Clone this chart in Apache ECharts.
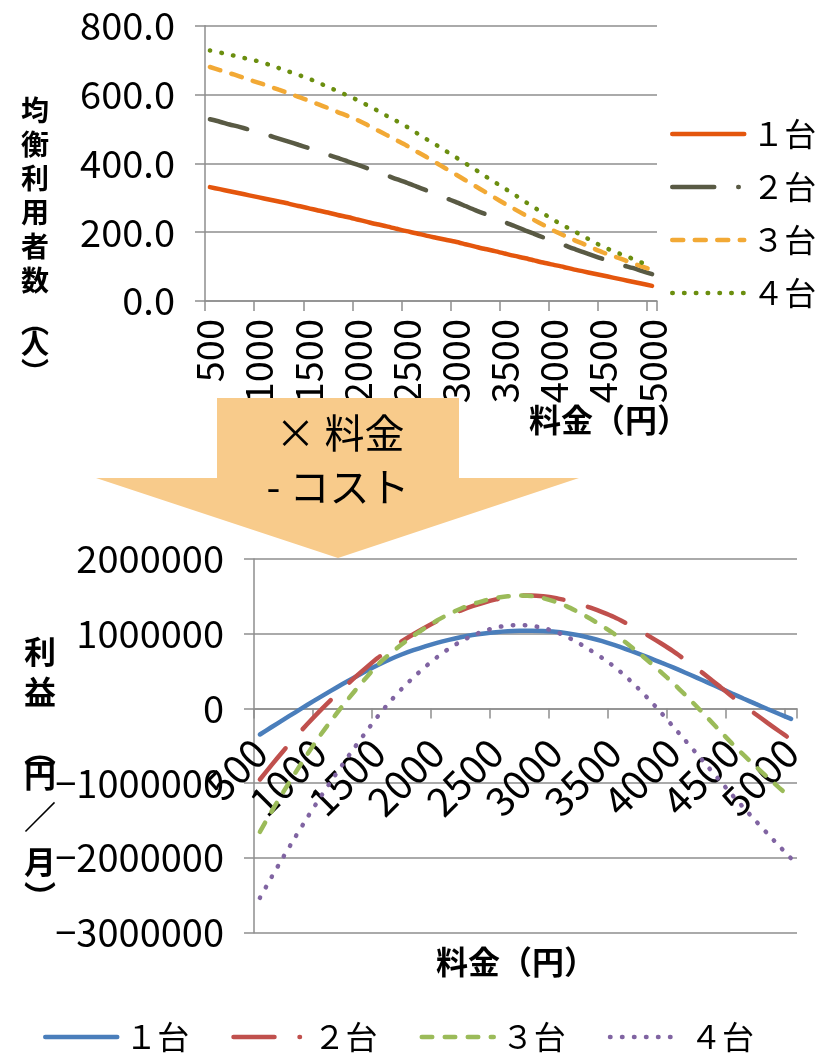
<!DOCTYPE html>
<html>
<head>
<meta charset="utf-8">
<script src="https://cdn.jsdelivr.net/npm/echarts@6/dist/echarts.min.js"></script>
<style>
  html, body { margin: 0; padding: 0; background: #fff; }
  #wrap { position: relative; width: 834px; height: 1053px; overflow: hidden; }
  #top { position: absolute; left: 0; top: 0; width: 834px; height: 450px; }
  #bottom { position: absolute; left: 0; top: 385px; width: 834px; height: 668px; }
</style>
</head>
<body>
<div id="wrap"><div id="top"></div><div id="bottom"></div></div>
<script>
// Price (yen), one category per 100 yen
const prices = [500,600,700,800,900,1000,1100,1200,1300,1400,1500,1600,1700,1800,1900,2000,2100,2200,2300,2400,2500,2600,2700,2800,2900,3000,3100,3200,3300,3400,3500,3600,3700,3800,3900,4000,4100,4200,4300,4400,4500,4600,4700,4800,4900,5000];

const seriesNames = ['１台', '２台', '３台', '４台'];

// Equilibrium number of users
const users1 = [331,325,319,313,307,301,295,289,283,276,270,263,257,250,244,237,230,223,217,210,203,197,190,184,178,172,165,158,151,145,138,131,125,118,111,105,99,92,86,80,74,68,62,56,50,44];
const users2 = [528,521,513,506,498,490,481,472,463,454,445,435,425,416,406,396,386,375,365,354,344,333,322,310,299,288,276,264,253,241,229,218,206,195,184,173,163,152,142,132,122,113,104,96,87,78];
const users3 = [680,671,662,653,643,634,624,614,604,593,583,572,561,549,538,526,512,497,482,467,452,435,419,402,385,368,351,334,317,300,283,267,251,235,220,204,191,178,166,153,141,131,121,110,100,90];
const users4 = [728,722,716,709,703,696,687,677,667,657,647,635,622,610,597,584,569,554,538,523,507,489,471,454,436,418,400,382,363,345,327,309,290,272,253,235,219,204,188,173,157,146,134,123,111,100];

// Profit (yen / month)
const profit1 = [-348000,-248000,-149000,-51000,46000,142000,236000,327000,415000,500000,582000,656000,722000,780000,832000,878000,918000,953000,982000,1004000,1021000,1033000,1039000,1040000,1036000,1027000,1007000,979000,943000,900000,850000,795000,737000,676000,613000,550000,482000,413000,343000,272000,200000,130000,61000,-7000,-74000,-140000];
const profit2 = [-950000,-754000,-565000,-384000,-211000,-45000,113000,264000,409000,546000,678000,791000,896000,993000,1084000,1168000,1243000,1310000,1368000,1418000,1460000,1490000,1508000,1513000,1502000,1480000,1445000,1400000,1348000,1289000,1224000,1144000,1057000,965000,869000,767000,655000,537000,415000,289000,160000,40000,-77000,-192000,-305000,-415000];
const profit3 = [-1650000,-1375000,-1113000,-860000,-617000,-384000,-169000,34000,227000,412000,589000,729000,856000,972000,1079000,1177000,1262000,1335000,1395000,1444000,1480000,1502000,1512000,1504000,1476000,1430000,1366000,1288000,1200000,1104000,1000000,882000,756000,622000,484000,340000,186000,26000,-138000,-305000,-470000,-625000,-775000,-920000,-1062000,-1200000];
const profit4 = [-2533000,-2253000,-1983000,-1720000,-1464000,-1217000,-979000,-750000,-527000,-311000,-102000,88000,260000,415000,557000,686000,799000,895000,975000,1037000,1084000,1109000,1117000,1107000,1077000,1030000,960000,875000,779000,675000,562000,427000,277000,114000,-58000,-241000,-421000,-604000,-788000,-972000,-1155000,-1331000,-1504000,-1674000,-1842000,-2007000];

const userSeries = [users1, users2, users3, users4];
const profitSeries = [profit1, profit2, profit3, profit4];

// Styling
const numFont = "'Liberation Sans Narrow', 'Noto Sans CJK JP', sans-serif";
const jpFont = "'Noto Sans CJK JP', sans-serif";
const gridColor = '#8e8e8e';
const lineWidth = 4.5;
const topColors = ['#E4560D', '#595A44', '#F2A935', '#6B8E0F'];
const bottomColors = ['#4A7EBB', '#C0504D', '#9BBB59', '#8064A2'];
const topDash = ['solid', [38.5, 24.5], [11, 11.5], [0.5, 11.3]];
const bottomDash = ['solid', [40.5, 25.5], [10.5, 12.5], [0.5, 11.5]];

// Profit plot geometry inside its container (px)
const profitGrid = { left: 254, top: 174, right: 37, bottom: 120.3 };
const profitPlotHeight = 668 - profitGrid.top - profitGrid.bottom;
const profitMin = -3000000, profitMax = 2000000;
// the price axis sits on the zero-profit line
const zeroOffset = -profitPlotHeight * (0 - profitMin) / (profitMax - profitMin);

function axisLineStyle() {
  return { color: gridColor, width: 1.5 };
}

function vText(chars, x, ys, size) {
  return chars.map((c, i) => ({
    type: 'text', x: x, y: ys[i], z: 10,
    style: {
      text: c, fill: '#000', font: 'bold ' + size + 'px ' + jpFont,
      align: 'center', verticalAlign: 'middle', textAlign: 'center', textVerticalAlign: 'middle'
    }
  }));
}

function plainText(str, x, y, font) {
  return {
    type: 'text', x: x, y: y, z: 10,
    style: {
      text: str, fill: '#000', font: font,
      align: 'center', verticalAlign: 'middle', textAlign: 'center', textVerticalAlign: 'middle'
    }
  };
}

function buildSeries(dataList, colors, dashes) {
  return dataList.map((d, i) => ({
    name: seriesNames[i],
    type: 'line',
    data: d,
    symbol: 'none',
    smooth: 0.2,
    lineStyle: { color: colors[i], width: lineWidth, type: dashes[i], cap: 'round' },
    itemStyle: { color: colors[i] }
  }));
}

function legendData(dotDash) {
  return seriesNames.map((n, i) => i === 1
    ? { name: n, lineStyle: { type: dotDash, width: lineWidth, cap: 'round' } }
    : { name: n });
}

function legendBase() {
  return {
    itemWidth: 72, itemHeight: 2,
    selectedMode: false,
    itemStyle: { opacity: 0 },
    lineStyle: { width: lineWidth, cap: 'round' },
    textStyle: { fontSize: 32, lineHeight: 36, color: '#000', fontFamily: jpFont, padding: [0, 0, 0, 3] }
  };
}

// ---- Equilibrium users chart ----
const topChart = echarts.init(document.getElementById('top'), null, { renderer: 'canvas' });
topChart.setOption({
  animation: false,
  grid: { left: 205, top: 25.7, right: 177, bottom: 149, containLabel: false, outerBoundsMode: 'none' },
  xAxis: {
    type: 'category', data: prices, boundaryGap: true,
    axisLine: { show: true, lineStyle: axisLineStyle() },
    axisTick: { show: true, interval: 4, length: 10, lineStyle: axisLineStyle() },
    axisLabel: { interval: 4, rotate: 90, margin: 18, color: '#000', fontSize: 38, fontFamily: numFont },
    splitLine: { show: false }
  },
  yAxis: {
    type: 'value', min: 0, max: 800, interval: 200,
    axisLine: { show: true, lineStyle: axisLineStyle() },
    axisTick: { show: true, length: 10, lineStyle: axisLineStyle() },
    axisLabel: { margin: 30, color: '#000', fontSize: 38, fontFamily: numFont, formatter: v => v.toFixed(1) },
    splitLine: { show: true, lineStyle: axisLineStyle() }
  },
  legend: Object.assign(legendBase(), {
    orient: 'vertical', left: 665, top: 111, itemGap: 17,
    data: legendData([42, 24, 0.5, 30])
  }),
  graphic: [
    ...vText(['均', '衡', '利', '用', '者', '数', '︵', '人', '︶'], 35,
             [110, 144, 178, 212, 246, 280, 322, 343, 372], 28),
    plainText('料金（円）', 609, 420, 'bold 32px ' + jpFont)
  ],
  series: buildSeries(userSeries, topColors, topDash)
});

// ---- Profit chart ----
const bottomChart = echarts.init(document.getElementById('bottom'), null, { renderer: 'canvas' });
bottomChart.setOption({
  animation: false,
  grid: Object.assign({ containLabel: false, outerBoundsMode: 'none' }, profitGrid),
  xAxis: {
    type: 'category', data: prices, boundaryGap: true,
    offset: zeroOffset,
    axisLine: { show: true, onZero: false, lineStyle: axisLineStyle() },
    axisTick: { show: true, interval: 4, length: 10, lineStyle: axisLineStyle() },
    axisLabel: { interval: 4, rotate: 45, margin: 37, color: '#000', fontSize: 40, fontFamily: numFont },
    splitLine: { show: false }
  },
  yAxis: {
    type: 'value', min: profitMin, max: profitMax, interval: 1000000,
    axisLine: { show: true, lineStyle: axisLineStyle() },
    axisTick: { show: true, length: 10, lineStyle: axisLineStyle() },
    axisLabel: {
      margin: 30, color: '#000', fontSize: 38, fontFamily: numFont,
      formatter: v => (v < 0 ? '\u2212' + Math.abs(v) : String(v))
    },
    splitLine: { show: true, lineStyle: axisLineStyle() }
  },
  legend: Object.assign(legendBase(), {
    orient: 'horizontal', left: 38, top: 629, itemGap: 42,
    data: legendData([41, 25, 0.5, 30])
  }),
  graphic: [
    {
      type: 'polygon', z: -1,
      shape: { points: [[217, 13], [459, 13], [459, 93], [579, 93], [338, 173], [96, 93], [217, 93]] },
      style: { fill: '#F8CB8B' }
    },
    plainText('× 料金', 340, 48, '40px ' + jpFont),
    plainText('- コスト', 338, 102, '40px ' + jpFont),
    ...vText(['利', '益', '︵', '円', '／', '月', '︶'], 40,
             [267, 307, 365, 390, 432, 477, 512], 32),
    plainText('料金（円）', 516, 577, 'bold 32px ' + jpFont)
  ],
  series: buildSeries(profitSeries, bottomColors, bottomDash)
});
</script>
</body>
</html>
